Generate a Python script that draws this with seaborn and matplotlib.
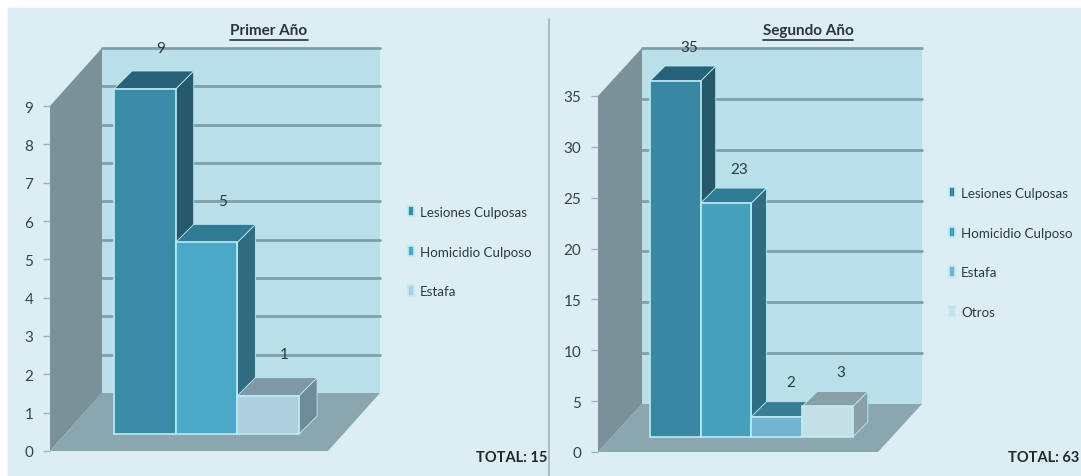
import matplotlib
matplotlib.use("Agg")
import matplotlib.pyplot as plt
import pandas as pd
import seaborn as sns
from matplotlib.lines import Line2D
from matplotlib.patches import Polygon, Rectangle

W, H = 1081, 477

cats_1 = ["Lesiones Culposas", "Homicidio Culposo", "Estafa"]
vals_1 = [9, 5, 1]
front_1 = ["#3A8BA6", "#4BA8C6", "#AECFDE"]
side_1 = ["#25596B", "#2F6E82", "#708B98"]
top_1 = ["#266379", "#2F7C94", "#7E98A5"]

cats_2 = ["Lesiones Culposas", "Homicidio Culposo", "Estafa", "Otros"]
vals_2 = [35, 23, 2, 3]
front_2 = ["#3A87A3", "#45A0BD", "#71B4CF", "#C5DFE6"]
side_2 = ["#25596B", "#2F6E82", "#3A7E96", "#8AA0A8"]
top_2 = ["#266379", "#2F7C94", "#3A7E96", "#8AA0A8"]

sns.set_theme(style="white")
plt.rcParams["font.family"] = ["Lato", "DejaVu Sans"]

fig = plt.figure(figsize=(W / 100, H / 100), dpi=100, facecolor="white")
fig.add_artist(Rectangle((8 / W, 0), 1, 1 - 9 / H, transform=fig.transFigure, color="#DCEEF3", zorder=-5))
fig.add_artist(Line2D([549 / W] * 2, [0, 1 - 20 / H], color="#9FB0B6", lw=1.2))


def panel(box, lo, cats, vals, fronts, sides, tops, ymax, yticks, bar_off, depth, wall,
          title, title_x, total, total_x, legend_x, legend_y):
    left, right, bottom, top = box
    ax = fig.add_axes([left / W, 1 - bottom / H, (right - left) / W, (bottom - top) / H])
    ax.patch.set_alpha(0)
    df = pd.DataFrame({"cat": cats, "val": vals})
    sns.barplot(data=df, x="cat", y="val", hue="cat", palette=fronts, hue_order=cats, saturation=1,
                width=1, ax=ax, edgecolor="#BFEAF5", linewidth=1.2, legend=True)
    ux = lo[1]
    hi = lo[0] + (right - left) / ux
    ax.set_xlim(lo[0], hi)
    ax.set_ylim(0, ymax)
    uy = (bottom - top) / ymax
    # pixel offsets to data units
    wx, wy = wall[0] / ux, wall[1] / uy
    bx, by = bar_off[0] / ux, bar_off[1] / uy
    dx, dy = depth[0] / ux, depth[1] / uy

    wall_kw = dict(closed=True, clip_on=False, lw=0)
    ax.add_patch(Polygon([(lo[0], 0), (lo[0], ymax), (lo[0] + wx, ymax + wy), (lo[0] + wx, wy)],
                         color="#7A9199", zorder=0.3, **wall_kw))
    ax.add_patch(Polygon([(lo[0], 0), (hi, 0), (hi + wx, wy), (lo[0] + wx, wy)],
                         color="#8AA7B0", zorder=0.3, **wall_kw))
    ax.add_patch(Polygon([(lo[0] + wx, wy), (hi + wx, wy), (hi + wx, ymax + wy), (lo[0] + wx, ymax + wy)],
                         color="#B9DFE8", zorder=0.2, **wall_kw))
    for t in yticks[1:]:
        ax.plot([lo[0] + wx, hi + wx], [t + wy] * 2, color="#7F9FAD", lw=2, zorder=0.25, clip_on=False)

    for i, bar in enumerate(ax.patches[:len(vals)]):
        x0 = bar.get_x() + bx
        x1 = x0 + bar.get_width()
        h = bar.get_height()
        y0 = by
        y1 = by + h
        z = 1 + i
        bar.set_x(x0)
        bar.set_y(y0)
        bar.set_zorder(z + 0.2)
        bar.set_clip_on(False)
        ax.add_patch(Polygon([(x1, y0), (x1, y1), (x1 + dx, y1 + dy), (x1 + dx, y0 + dy)],
                             facecolor=sides[i], edgecolor="#BFEAF5", lw=0.6, zorder=z, clip_on=False))
        ax.add_patch(Polygon([(x0, y1), (x1, y1), (x1 + dx, y1 + dy), (x0 + dx, y1 + dy)],
                             facecolor=tops[i], edgecolor="#BFEAF5", lw=0.6, zorder=z + 0.1, clip_on=False))
        ax.text((x0 + x1) / 2 + dx * 0.9, y1 + dy * 2.3, str(vals[i]), ha="center", va="center",
                fontsize=11, color="#2B3A40", zorder=20)

    ax.set_xticks([])
    ax.set_xlabel("")
    ax.set_ylabel("")
    ax.set_yticks(yticks)
    ax.tick_params(axis="y", left=True, length=5, width=1, color="#9FB0B6", labelsize=11,
                   labelcolor="#37444B", pad=7)
    sns.despine(ax=ax, left=True, bottom=True)

    sns.move_legend(ax, "upper left", bbox_to_anchor=(legend_x / W, 1 - legend_y / H),
                    bbox_transform=fig.transFigure, frameon=False, title=None, fontsize=9.6,
                    labelspacing=2.07, handlelength=0.45, handleheight=0.8, handletextpad=0.45,
                    borderpad=0, borderaxespad=0, labelcolor="#2B3A40")

    t = fig.text(title_x / W, 1 - 31 / H, title, ha="center", va="center", fontsize=11,
                 fontweight="bold", color="#2B3438")
    bb = t.get_window_extent(fig.canvas.get_renderer())
    fig.add_artist(Line2D([bb.x0 / W, bb.x1 / W], [1 - 41 / H] * 2, color="#2B3438", lw=1.2))
    fig.text(total_x / W, 1 - 458 / H, total, ha="left", va="center", fontsize=10.5,
             fontweight="bold", color="#20282C")
    return ax


# (value at left edge, px per category)
panel((50, 328, 452, 107), (-1.278, 61.7), cats_1, vals_1, front_1, side_1, top_1, 9,
      list(range(0, 10)), (16, 17), (18, 18), (52, 58),
      "Primer Año", 269, "TOTAL: 15", 476, 408, 207)
panel((598, 878, 453, 97), (-1.25, 50.7), cats_2, vals_2, front_2, side_2, top_2, 35,
      list(range(0, 40, 5)), (14, 15), (15, 15), (44, 48),
      "Segundo Año", 808, "TOTAL: 63", 1008, 949, 188)

fig.savefig("out.png", dpi=100)
